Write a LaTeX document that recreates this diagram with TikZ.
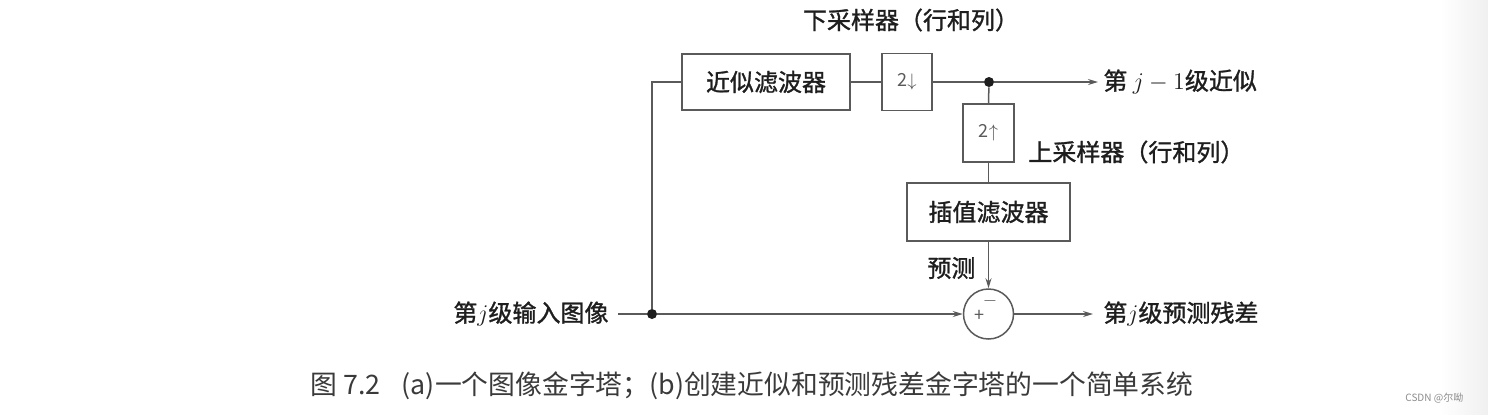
\documentclass[tikz,border=0pt]{standalone}
\usepackage{fontspec}
\setmainfont{Noto Sans CJK SC}
\newfontfamily\cjkb{Noto Sans CJK SC}[FakeBold=1.2]
\usetikzlibrary{arrows.meta,calc}
\definecolor{ln}{HTML}{5A5A5A}
\definecolor{tx}{HTML}{1E1E1E}
\definecolor{cap}{HTML}{3A3A3A}
\tikzset{
  blk/.style={draw=ln, line width=0.75pt, inner sep=0pt, font=\cjkb\fontsize{12}{14}\selectfont, text=tx},
  smallblk/.style={draw=ln, line width=0.75pt, inner sep=0pt, font=\fontsize{9}{10}\selectfont, text=ln},
  wire/.style={draw=ln, line width=0.75pt},
  arr/.style={wire, -{Stealth[length=5pt,width=3pt]}},
  lbl/.style={inner sep=0pt, font=\cjkb\fontsize{12}{14}\selectfont, text=tx},
  dotn/.style={circle, fill=tx, inner sep=0pt, minimum size=5pt},
}
\begin{document}
\begin{tikzpicture}[x=0.5pt,y=-0.5pt]
\useasboundingbox (0,0) rectangle (1488,414);
\fill[white] (0,0) rectangle (1488,414);
\shade[left color=white, right color=black!6] (1440,0) rectangle (1488,414);
% blocks
\node[blk, minimum width=84pt, minimum height=28pt] (af) at (766,82) {近似滤波器};
\node[smallblk, minimum width=25pt, minimum height=28.5pt] (down) at (907,82) {2$\downarrow$};
\node[smallblk, minimum width=25.5pt, minimum height=29pt] (up) at (988.5,133) {2$\uparrow$};
\node[blk, minimum width=81.5pt, minimum height=29pt] (inf) at (988.5,212) {插值滤波器};
\node[draw=ln, line width=0.75pt, circle, minimum size=25pt, inner sep=0pt] (sum) at (988.5,314) {};
\node[inner sep=0pt, text=ln, font=\fontsize{9}{10}\selectfont] (plus) at (979,316) {+};
\node[inner sep=0pt, text=ln, font=\fontsize{9}{10}\selectfont] (minus) at (990,301) {$-$};
% dots and free ends
\node[dotn] (dT) at (989,82) {};
\node[dotn] (dL) at (652,314) {};
\coordinate (inS) at (618,314);
\coordinate (outA) at (1098,82);
\coordinate (outR) at (1093,314);
% connectors
\draw[wire] (inS) -- (dL);
\draw[arr] (dL) -- (sum.west);
\draw[wire] (dL) |- (af.west);
\draw[wire] (af.east) -- (down.west);
\draw[wire] (down.east) -- (dT);
\draw[arr] (dT) -- (outA);
\draw[wire] (dT) -- (up.north);
\draw[wire] (up.south) -- (inf.north);
\draw[arr] (inf.south) -- (sum.north);
\draw[arr] (sum.east) -- (outR);
% labels
\node[lbl] (tDown) at (911,20) {下采样器（行和列）};
\node[lbl, anchor=west] (tApprox) at (1103,82) {第 $j-1$级近似};
\node[lbl, anchor=west] (tUp) at (1028,152) {上采样器（行和列）};
\node[lbl, anchor=west] (tPred) at (927,268) {预测};
\node[lbl, anchor=west] (tRes) at (1103,314) {第$j$级预测残差};
\node[lbl, anchor=west] (tIn) at (453,314) {第$j$级输入图像};
\node[inner sep=0pt, anchor=west, text=cap, font=\fontsize{13.4}{15}\selectfont] (caption) at (310,386) {图 7.2\hspace{0.8em}(a)一个图像金字塔；(b)创建近似和预测残差金字塔的一个简单系统};
\node[inner sep=0pt, anchor=west, text=black!45, font=\fontsize{5}{6}\selectfont] (wm) at (1405,398) {CSDN @尔呦};
\end{tikzpicture}
\end{document}
